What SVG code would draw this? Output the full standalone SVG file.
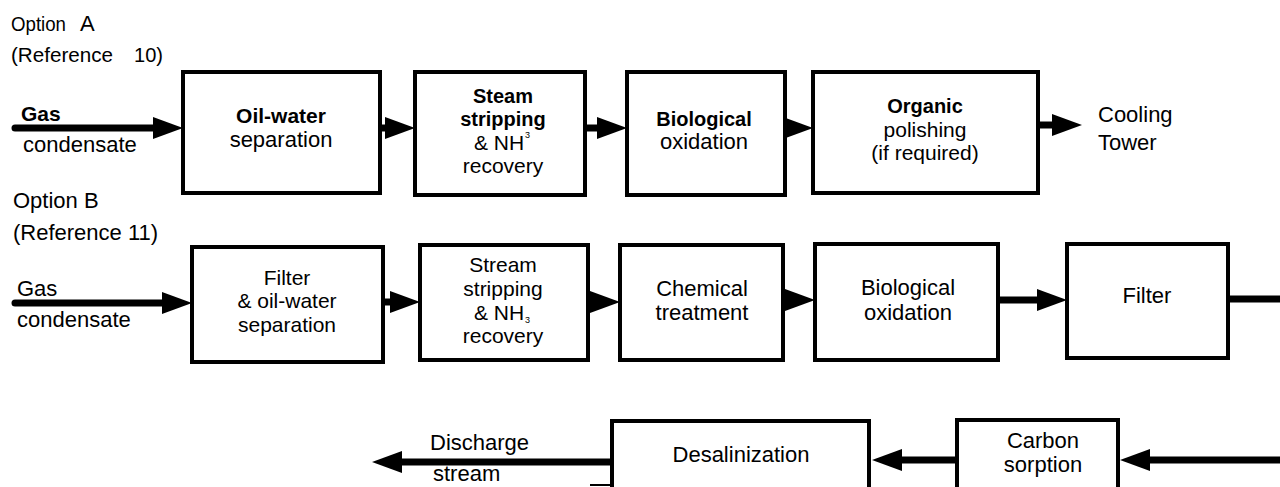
<svg xmlns="http://www.w3.org/2000/svg" width="1280" height="487" viewBox="0 0 1280 487">
<style>
text{font-family:"Liberation Sans",Arial,sans-serif;font-size:22px;fill:#000}
.b{font-weight:bold;font-size:20px}
.b21{font-weight:bold;font-size:21px}
.c{text-anchor:middle}
.s{font-size:21px}
.sup{font-size:9px}
.t20{font-size:20px}
.t21{font-size:21px}
.box{fill:#fff;stroke:#000;stroke-width:4}
.con{stroke:#000;stroke-width:7;fill:none}
</style>
<defs>
<marker id="ah" markerUnits="userSpaceOnUse" markerWidth="30" markerHeight="22" refX="15" refY="11" orient="auto">
<path d="M0,0 L30,11 L0,22 Z" fill="#000"/>
</marker>
</defs>
<rect width="1280" height="487" fill="#fff"/>
<g id="labels">
<text class="t21" x="11" y="31" textLength="55" lengthAdjust="spacingAndGlyphs">Option</text>
<text x="80" y="31">A</text>
<text class="t20" x="11" y="62" textLength="102" lengthAdjust="spacingAndGlyphs">(Reference</text>
<text class="t20" x="134" y="62" textLength="29" lengthAdjust="spacingAndGlyphs">10)</text>
<text x="21" y="121" class="b21">Gas</text>
<text x="23" y="152">condensate</text>
<text x="1098" y="122">Cooling</text>
<text x="1098" y="150">Tower</text>
<text x="13" y="208">Option B</text>
<text x="13" y="240">(Reference 11)</text>
<text x="17" y="296">Gas</text>
<text x="17" y="327">condensate</text>
<text x="430" y="450">Discharge</text>
<text x="433" y="481">stream</text>
</g>
<g id="connectors">
<line class="con" x1="15" y1="128" x2="168" y2="128" stroke-linecap="round" marker-end="url(#ah)"/>
<line class="con" x1="380" y1="128" x2="400" y2="128" marker-end="url(#ah)"/>
<line class="con" x1="585" y1="128" x2="612" y2="128" marker-end="url(#ah)"/>
<line class="con" x1="785" y1="128" x2="798" y2="128" marker-end="url(#ah)"/>
<line class="con" x1="1038" y1="125" x2="1067" y2="125" marker-end="url(#ah)"/>
<line class="con" x1="15" y1="303" x2="177" y2="303" stroke-linecap="round" marker-end="url(#ah)"/>
<line class="con" x1="383" y1="302" x2="405" y2="302" marker-end="url(#ah)"/>
<line class="con" x1="588" y1="302" x2="605" y2="302" marker-end="url(#ah)"/>
<line class="con" x1="783" y1="300" x2="800" y2="300" marker-end="url(#ah)"/>
<line class="con" x1="998" y1="300" x2="1052" y2="300" marker-end="url(#ah)"/>
<line class="con" x1="1228" y1="299" x2="1280" y2="299"/>
<line class="con" x1="1280" y1="460" x2="1135" y2="460" marker-end="url(#ah)"/>
<line class="con" x1="957" y1="460" x2="887" y2="460" marker-end="url(#ah)"/>
<line class="con" x1="612" y1="462" x2="387" y2="462" marker-end="url(#ah)"/>
<line x1="590" y1="485" x2="869" y2="485" stroke="#000" stroke-width="2"/>
</g>
<g id="A1"><rect class="box" x="183" y="72" width="197" height="121"/>
<text class="c b21" x="281" y="123">Oil-water</text><text class="c" x="281" y="147">separation</text></g>
<g id="A2"><rect class="box" x="415" y="72" width="170" height="123"/>
<text class="c b" x="503" y="103">Steam</text><text class="c b" x="503" y="126">stripping</text>
<text class="c s" x="499" y="150">&amp; NH</text><text class="sup" x="525" y="138">3</text>
<text class="c s" x="503" y="173">recovery</text></g>
<g id="A3"><rect class="box" x="627" y="72" width="158" height="123"/>
<text class="c b" x="704" y="126">Biological</text><text class="c" x="704" y="149">oxidation</text></g>
<g id="A4"><rect class="box" x="813" y="72" width="225" height="121"/>
<text class="c b" x="925" y="113">Organic</text><text class="c s" x="925" y="137">polishing</text><text class="c s" x="925" y="160">(if required)</text></g>
<g id="B1"><rect class="box" x="192" y="247" width="191" height="115"/>
<text class="c s" x="287" y="285">Filter</text><text class="c s" x="287" y="308">&amp; oil-water</text><text class="c s" x="287" y="332">separation</text></g>
<g id="B2"><rect class="box" x="420" y="245" width="168" height="115"/>
<text class="c s" x="503" y="272">Stream</text><text class="c s" x="503" y="296">stripping</text>
<text class="c s" x="499" y="320">&amp; NH</text><text class="sup" x="525" y="323">3</text>
<text class="c s" x="503" y="343">recovery</text></g>
<g id="B3"><rect class="box" x="620" y="245" width="163" height="115"/>
<text class="c" x="702" y="296">Chemical</text><text class="c" x="702" y="320">treatment</text></g>
<g id="B4"><rect class="box" x="815" y="244" width="183" height="116"/>
<text class="c" x="908" y="295">Biological</text><text class="c" x="908" y="320">oxidation</text></g>
<g id="B5"><rect class="box" x="1067" y="244" width="161" height="114"/>
<text class="c" x="1147" y="303">Filter</text></g>
<g id="C1"><rect class="box" x="612" y="421" width="257" height="90"/>
<text class="c" x="741" y="462">Desalinization</text></g>
<g id="C2"><rect class="box" x="957" y="420" width="161" height="90"/>
<text class="c" x="1043" y="448">Carbon</text><text class="c" x="1043" y="472">sorption</text></g>
</svg>
